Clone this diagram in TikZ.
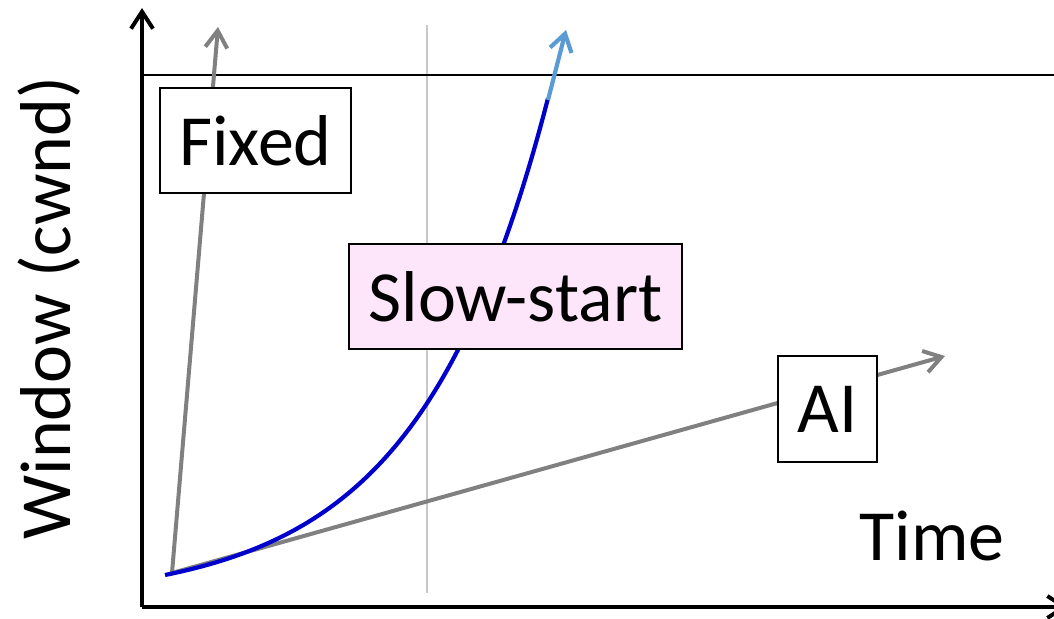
\documentclass[tikz,border=0pt]{standalone}
\usepackage{fontspec}
\setmainfont{Carlito}
\usetikzlibrary{arrows.meta}
\definecolor{pinkfill}{RGB}{253,230,250}
\definecolor{curveblue}{RGB}{0,0,204}
\definecolor{lightblue}{RGB}{91,155,213}
\definecolor{grayline}{RGB}{128,128,128}
\definecolor{guide}{RGB}{200,200,200}
\tikzset{
  barb/.style={-{Straight Barb[length=17pt,width=22pt]}},
  graph/.style={draw=grayline,line width=4pt,barb},
  label box/.style={draw=black,line width=2pt,fill=white,inner sep=0pt,
    font=\fontsize{72}{86}\selectfont},
  axis/.style={draw=black,line width=4pt},
}
\begin{document}
\begin{tikzpicture}[x=1pt,y=-1pt]
\useasboundingbox (0,0) rectangle (1054,618);
% coordinates
\coordinate (O) at (142,607);
\coordinate (ytip) at (142,8);
\coordinate (xtip) at (1068,607);
\coordinate (capL) at (142,75);
\coordinate (capR) at (1060,75);
\coordinate (gT) at (427,25);
\coordinate (gB) at (427,593);
\coordinate (start) at (172,573);
\coordinate (fixtip) at (218,27);
\coordinate (aitip) at (945,356);
\coordinate (sbend) at (548,100);
\coordinate (stip) at (566,30);
% guide line
\draw[guide,line width=1.3pt] (gT) -- (gB);
% axes
\draw[axis,barb] (O) -- (ytip);
\draw[axis,barb] (O) -- (xtip);
\draw[black,line width=2.6pt] (capL) -- (capR);
% curves
\draw[graph] (start) -- (fixtip);
\draw[graph] (start) -- (aitip);
\draw[curveblue,line width=4.2pt] plot[domain=165:548,samples=120,smooth]
  (\x,{575-26.3*(exp(0.0077*(\x-165))-1)});
\draw[lightblue,line width=4.2pt,barb] (sbend) -- (stip);
% boxes
\node[label box,minimum width=191pt,minimum height=105pt] (fixed) at (255.5,140.5) {Fixed};
\node[label box,fill=pinkfill,minimum width=333pt,minimum height=105pt] (slow) at (515.5,296.5) {Slow-start};
\node[label box,minimum width=99pt,minimum height=106pt] (ai) at (827.5,409) {AI};
% axis labels
\node[font=\fontsize{72}{86}\selectfont,inner sep=0pt,anchor=base] (time) at (932,560) {Time};
\node[font=\fontsize{72}{86}\selectfont,inner sep=0pt,anchor=base,rotate=90] (win) at (70,308) {Window (cwnd)};
\end{tikzpicture}
\end{document}
